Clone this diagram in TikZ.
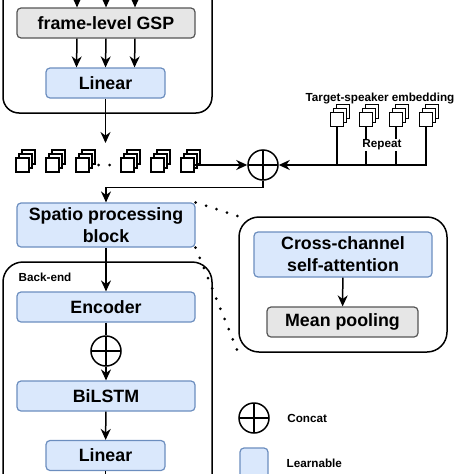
\documentclass[tikz,border=0pt]{standalone}
\usepackage{fontspec}
\setmainfont{Liberation Sans}
\usetikzlibrary{shapes,calc,positioning}
\usetikzlibrary{arrows.meta}

\definecolor{learnfill}{HTML}{DAE8FC}
\definecolor{learndraw}{HTML}{6C8EBF}
\definecolor{fixfill}{HTML}{E6E6E6}
\definecolor{fixdraw}{HTML}{555555}

% stack of three feature maps, front square named #1
\newcommand{\featstack}[2]{%
  \node at ($(#2)+(6,-8)$) [sq] {};
  \node at ($(#2)+(3,-4)$) [sq] {};
  \node (#1) at (#2) [sq] {};}

\begin{document}
\begin{tikzpicture}[x=1pt,y=-1pt,text=black,
  node font=\bfseries\fontsize{17.8}{22}\selectfont,
  line width=1.5pt,
  >={Stealth[length=11pt,width=10pt]},
  learn/.style={rectangle, draw=learndraw, fill=learnfill, rounded corners=4pt,
    line width=1.2pt, inner sep=0pt},
  fixed/.style={rectangle, draw=fixdraw, fill=fixfill, rounded corners=4pt,
    line width=1.2pt, inner sep=0pt},
  concat/.style={circle, draw, minimum size=30pt, inner sep=0pt,
    path picture={\draw (path picture bounding box.north) -- (path picture bounding box.south)
      (path picture bounding box.west) -- (path picture bounding box.east);}},
  sq/.style={rectangle, draw, fill=white, minimum width=13pt, minimum height=14pt,
    inner sep=0pt, line width=1.4pt},
  smalltext/.style={node font=\bfseries\fontsize{11.7}{14}\selectfont},
  dots/.style={line width=3pt, line cap=round, dash pattern=on 0pt off 11pt}]

  \clip (0,0) rectangle (474,474);

  % front-end
  \draw[rounded corners=16pt] (3,-40) rectangle (212,113);
  \node (GSP) at (106,23) [fixed, minimum width=178pt, minimum height=30pt] {frame-level GSP};
  \node (LIN1) at (105.5,83) [learn, minimum width=119pt, minimum height=30pt] {Linear};
  \foreach \dx in {-29,0,29} {
    \draw[->] ($(GSP.north)+(\dx,-20)$) -- ($(GSP.north)+(\dx,0)$);
    \draw[->] ($(GSP.south)+(\dx,0)$) -- ($(LIN1.north)+(\dx,0)$);
  }
  \coordinate (FEAT) at (105.5,143);
  \draw[->] (LIN1.south) -- (FEAT);

  % frame features
  \foreach \n/\x in {1/22.5,2/52.5,3/82.5,4/127.5,5/157.5,6/187.5} {
    \featstack{S\n}{\x,165}
  }
  \draw[dots] ($(S3.east)+(9,0)$) -- (S4.west);

  % target-speaker embedding
  \foreach \n/\x in {1/337,2/366,3/396,4/426} {
    \featstack{T\n}{\x,119.5}
  }
  \node (CAT1) at (263,165) [concat] {};
  \draw[->] (S6.east) -- (CAT1);
  \draw[->] (T4.south) |- (CAT1);
  \foreach \n in {1,2,3} \draw (T\n.south) -- (T\n.south |- CAT1.center);
  \node (TSE) at (380,98) [smalltext] {Target-speaker embedding};
  \node (REP) at (382,145) [smalltext, fill=white, inner sep=1pt] {Repeat};

  % spatio processing block
  \node (SPB) at (106,225) [learn, minimum width=178pt, minimum height=44pt, align=center]
        {Spatio processing\\block};
  \draw[->] (CAT1.south) |- ($(SPB.north)+(0,-15)$) -- (SPB.north);

  % back-end
  \draw[rounded corners=20pt] (3,262) rectangle (212,520);
  \node (BE) at (14,277) [smalltext, anchor=west] {Back-end};
  \node (ENC) at (106,307) [learn, minimum width=178pt, minimum height=30pt] {Encoder};
  \node (CAT2) at (106,351) [concat] {};
  \node (BLSTM) at (106,396) [learn, minimum width=178pt, minimum height=30pt] {BiLSTM};
  \node (LIN2) at (105.5,455.5) [learn, minimum width=119pt, minimum height=30pt] {Linear};
  \coordinate (OUT) at (105.5,490);
  \draw[->] (SPB) -- (ENC);
  \draw (ENC) -- (CAT2);
  \draw[->] (CAT2) -- (BLSTM);
  \draw[->] (BLSTM) -- (LIN2);
  \draw (LIN2) -- (OUT);

  % detail of the spatio processing block
  \node (DET) at (343,284.5) [rectangle, draw, rounded corners=20pt,
        minimum width=208pt, minimum height=135pt] {};
  \node (CCA) at (343,254.5) [learn, minimum width=178pt, minimum height=45pt, align=center]
        {Cross-channel\\self-attention};
  \node (MP) at (342.5,322) [fixed, minimum width=151pt, minimum height=30pt] {Mean pooling};
  \draw[->] (CCA) -- (MP);
  \draw[dots] (SPB.north east) -- (DET.north west);
  \draw[dots] (SPB.south east) -- (DET.south west);

  % legend
  \node (CAT3) at (254,418) [concat] {};
  \node (CATL) [right=13pt of CAT3, smalltext] {Concat};
  \node (LRN) at (254,470) [learn, minimum width=28pt, minimum height=44pt] {};
  \node (LRNL) at (282,463) [smalltext, anchor=west] {Learnable};

\end{tikzpicture}
\end{document}
